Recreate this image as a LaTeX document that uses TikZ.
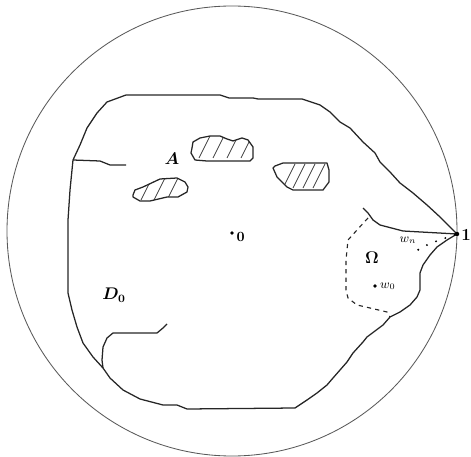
\documentclass[tikz,border=0pt]{standalone}
\usepackage{amsmath}
\usepackage{tikz}
\usetikzlibrary{positioning,calc}

\begin{document}
\begin{tikzpicture}[
    x=0.025cm, y=-0.025cm,
    bdry/.style={line width=0.9pt, black!85, line join=round},
    disk/.style={line width=0.6pt, black!65},
    hatch/.style={line width=0.5pt, black!75},
    lbl/.style={font=\large\boldmath, inner sep=1pt},
    sml/.style={font=\small, inner sep=1pt},
    pt/.style={circle, fill=black, inner sep=0pt, minimum size=3.2pt}
  ]
    \useasboundingbox (0,0) rectangle (471,457);

    % unit disk
    \coordinate (c) at (232,231);
    \draw[disk] (c) circle (225);

    % boundary of D_0
    \draw[bdry] (457,234) -- (450,227) -- (440,217) -- (427,205) -- (413,193) -- (400,183)
      -- (390,172) -- (380,162) -- (375,153) -- (363,142) -- (350,128) -- (340,122)
      -- (330,112) -- (320,105) -- (302,99) -- (258,99) -- (253,98) -- (229,98)
      -- (220,95) -- (126,95) -- (107,102) -- (97,113) -- (87,128) -- (80,145)
      -- (73,160) -- (70,190) -- (68,220) -- (68,293) -- (72,310) -- (77,327)
      -- (83,343) -- (93,357) -- (103,368) -- (110,378) -- (123,390) -- (140,399)
      -- (163,405) -- (177,405) -- (187,409) -- (295,408) -- (307,400) -- (317,393)
      -- (327,385) -- (333,378) -- (347,362) -- (353,353) -- (363,342) -- (367,337)
      -- (383,325) -- (390,317) -- (400,312) -- (410,305) -- (417,297) -- (420,290)
      -- (420,273) -- (423,265) -- (430,255) -- (437,247) -- (447,240) -- (457,234);

    % slits
    \draw[bdry] (73,160) -- (100,161) -- (110,165) -- (126,165);
    \draw[bdry] (103,368) -- (102,360) -- (103,347) -- (107,338) -- (113,333)
      -- (157,333) -- (163,328) -- (167,324);
    \draw[bdry] (457,234) -- (403,231) -- (380,225) -- (373,220) -- (368,213) -- (363,208);

    % boundary of Omega
    \draw[bdry, dashed, line width=0.8pt] (368,218) -- (357,230) -- (348,240) -- (346,260)
      -- (346,290) -- (348,298) -- (357,305) -- (370,308) -- (387,312) -- (390,317);

    % obstacles
    \begin{scope}
      \clip (192,148) -- (193,142) -- (200,138) -- (210,136) -- (220,136) -- (227,139)
        -- (233,141) -- (242,138) -- (248,140) -- (253,147) -- (253,158) -- (250,161)
        -- (207,161) -- (195,160) -- (191,153) -- cycle;
      \foreach \x in {199,213,227,241}
        \draw[hatch] (\x,158) -- ++(11,-22);
    \end{scope}
    \draw[bdry] (192,148) -- (193,142) -- (200,138) -- (210,136) -- (220,136) -- (227,139)
      -- (233,141) -- (242,138) -- (248,140) -- (253,147) -- (253,158) -- (250,161)
      -- (207,161) -- (195,160) -- (191,153) -- cycle;

    \begin{scope}
      \clip (133,195) -- (135,190) -- (143,187) -- (160,179) -- (177,178) -- (185,182)
        -- (188,187) -- (187,192) -- (178,197) -- (167,197) -- (150,201) -- (140,201)
        -- (133,197) -- cycle;
      \foreach \x in {141,154,167}
        \draw[hatch] (\x,200) -- ++(11,-22);
    \end{scope}
    \draw[bdry] (133,195) -- (135,190) -- (143,187) -- (160,179) -- (177,178) -- (185,182)
      -- (188,187) -- (187,192) -- (178,197) -- (167,197) -- (150,201) -- (140,201)
      -- (133,197) -- cycle;

    \begin{scope}
      \clip (273,168) -- (275,166) -- (283,163) -- (327,163) -- (329,170) -- (329,182)
        -- (323,190) -- (293,190) -- (287,187) -- (277,177) -- cycle;
      \foreach \x in {283,293,303,313}
        \draw[hatch] (\x,188) -- ++(12,-24);
    \end{scope}
    \draw[bdry] (273,168) -- (275,166) -- (283,163) -- (327,163) -- (329,170) -- (329,182)
      -- (323,190) -- (293,190) -- (287,187) -- (277,177) -- cycle;

    % points and labels
    \node[pt] (one) at (457,234) {};
    \node[lbl, anchor=west, inner sep=0pt] at (461,235) {$1$};
    \node[pt, minimum size=2.8pt] (zero) at (232,233) {};
    \node[lbl, font=\boldmath, below right=-3pt and 1pt of zero] {$0$};
    \node[pt, minimum size=2.6pt] (w0) at (375,286) {};
    \node[sml, right=1pt of w0] {$w_0$};
    \coordinate (wn) at (412,254);
    \node[sml] at (408,240) {$w_n$};
    \draw[line width=1.5pt, dash pattern=on 0pt off 7pt, line cap=round]
      (one) .. controls (440,240) and (425,244) .. (wn);

    \node[lbl] (A) at (172,159) {$A$};
    \node[lbl] (D0) at (114,295) {$D_0$};
    \node[lbl] (Om) at (372,258) {$\Omega$};
  \end{tikzpicture}
\end{document}
